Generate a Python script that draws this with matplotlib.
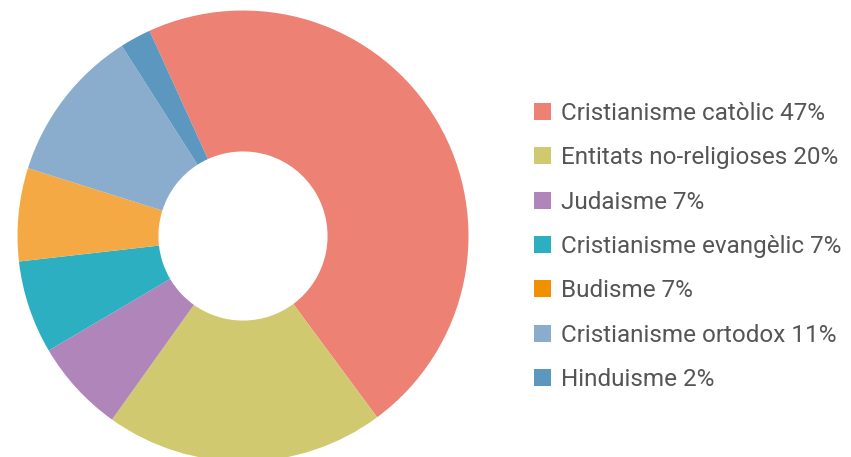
import matplotlib
matplotlib.use("Agg")
import matplotlib.pyplot as plt
from matplotlib.patches import Patch

# data (counts; percentages in labels)
labels = [
    "Cristianisme catòlic 47%",
    "Entitats no-religioses 20%",
    "Judaisme 7%",
    "Cristianisme evangèlic 7%",
    "Budisme 7%",
    "Cristianisme ortodox 11%",
    "Hinduisme 2%",
]
counts = [21, 9, 3, 3, 3, 5, 1]
slice_colors = ["#EC8174", "#D1C970", "#B085B9", "#2CAFC1", "#F5A945", "#8BADCD", "#5B97BE"]
legend_colors = ["#EC8174", "#D1C970", "#B085B9", "#2CAFC1", "#F29100", "#8BADCD", "#5B97BE"]

W, H = 851, 457
fig = plt.figure(figsize=(W / 100, H / 100), dpi=100)

cx, cy, r = 243, 236, 225.5
ax = fig.add_axes([(cx - r) / W, (H - cy - r) / H, 2 * r / W, 2 * r / H])
ax.pie(counts, colors=slice_colors, startangle=114.5, counterclock=False,
       radius=1.0, wedgeprops=dict(width=0.625, edgecolor="none"))
ax.set_xlim(-1, 1)
ax.set_ylim(-1, 1)
ax.set_aspect("equal")
ax.axis("off")

handles = [Patch(facecolor=c, edgecolor="none") for c in legend_colors]
fig.legend(handles, labels, loc="center left", bbox_to_anchor=(534 / W, 1 - 246.5 / H),
           frameon=False, labelcolor="#555555",
           handlelength=0.7, handleheight=0.7, handletextpad=0.41,
           labelspacing=0.88, borderpad=0, borderaxespad=0,
           prop={"family": "Roboto", "size": 17.5})

fig.savefig("out.png", dpi=100)
